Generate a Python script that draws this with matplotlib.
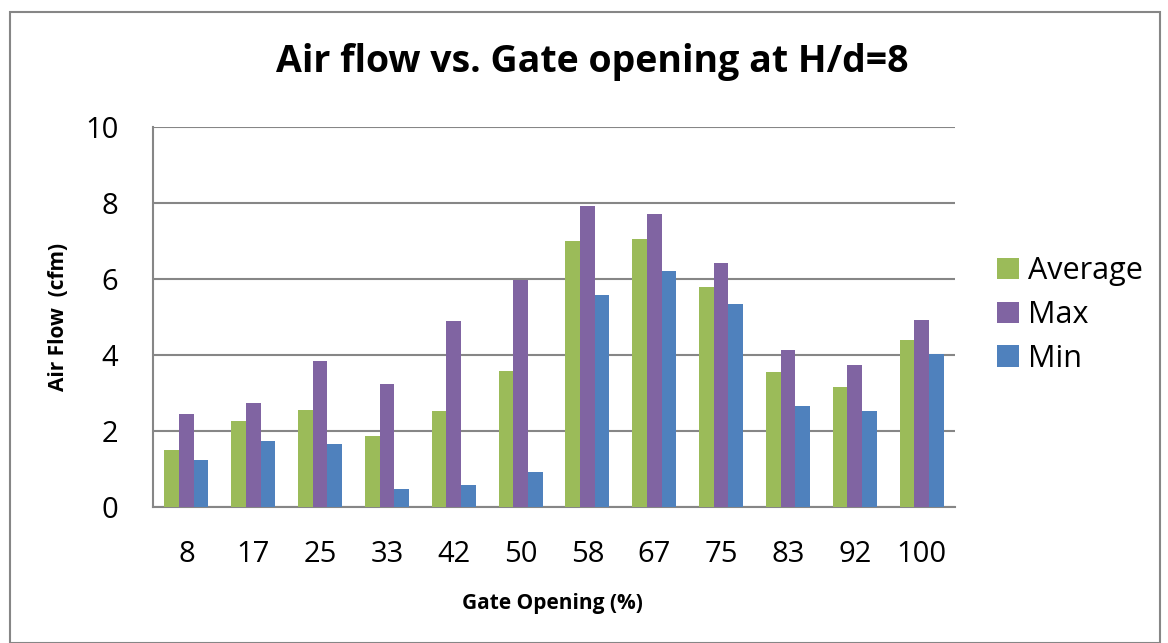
import matplotlib
matplotlib.use("Agg")
import matplotlib.pyplot as plt
import numpy as np
from matplotlib.patches import Rectangle

categories = ["8", "17", "25", "33", "42", "50", "58", "67", "75", "83", "92", "100"]
average = [1.51, 2.27, 2.55, 1.86, 2.52, 3.57, 6.99, 7.05, 5.80, 3.56, 3.16, 4.39]
maximum = [2.46, 2.74, 3.83, 3.23, 4.90, 5.98, 7.92, 7.72, 6.43, 4.14, 3.75, 4.93]
minimum = [1.25, 1.75, 1.67, 0.48, 0.58, 0.93, 5.58, 6.21, 5.33, 2.66, 2.52, 4.03]

plt.rcParams['font.family'] = ['Open Sans', 'DejaVu Sans']

W, H = 1168, 643
fig = plt.figure(figsize=(W/100, H/100), dpi=100)
ax = fig.add_axes([153/W, 1-507/H, (955-153)/W, (507-127)/H])

x = np.arange(len(categories))
bw = 0.22
ax.bar(x - bw, average, bw, color="#9BBB59", label="Average", zorder=3)
ax.bar(x, maximum, bw, color="#8064A2", label="Max", zorder=3)
ax.bar(x + bw, minimum, bw, color="#4F81BD", label="Min", zorder=3)

ax.set_xlim(-0.5, len(categories) - 0.5)
ax.set_ylim(0, 10)
ax.set_yticks([0, 2, 4, 6, 8, 10])
ax.yaxis.grid(True, color="#868686", linewidth=1.5, zorder=0)
ax.set_xticks(x)
ax.set_xticklabels(categories)
ax.tick_params(axis='both', labelsize=21, length=0)
ax.tick_params(axis='x', pad=24)
ax.tick_params(axis='y', pad=25)
for s in ['top', 'right']:
    ax.spines[s].set_visible(False)
for s in ['left', 'bottom']:
    ax.spines[s].set_color("#868686")
    ax.spines[s].set_linewidth(1.5)

fig.text(552/W, 1-603/H, "Gate Opening (%)", ha='center', va='center',
         fontsize=15, fontweight='bold')
fig.text(58/W, 1-317/H, "Air Flow  (cfm)", ha='center', va='center', rotation=90,
         fontsize=15, fontweight='bold')
fig.text(592/W, 1-62/H, "Air flow vs. Gate opening at H/d=8", ha='center', va='center',
         fontsize=27, fontweight='bold')

leg = ax.legend(loc='center left', bbox_to_anchor=(982/W, 1-315/H), bbox_transform=fig.transFigure,
                frameon=False, fontsize=22, handlelength=0.7, handleheight=0.7,
                handletextpad=0.3, labelspacing=0.45, borderpad=0)

fig.patches.append(Rectangle((10/W, 0), (1160-10)/W, 1-12/H, transform=fig.transFigure,
                             fill=False, edgecolor="#868686", linewidth=1.5))

fig.savefig("out.png", dpi=100)
